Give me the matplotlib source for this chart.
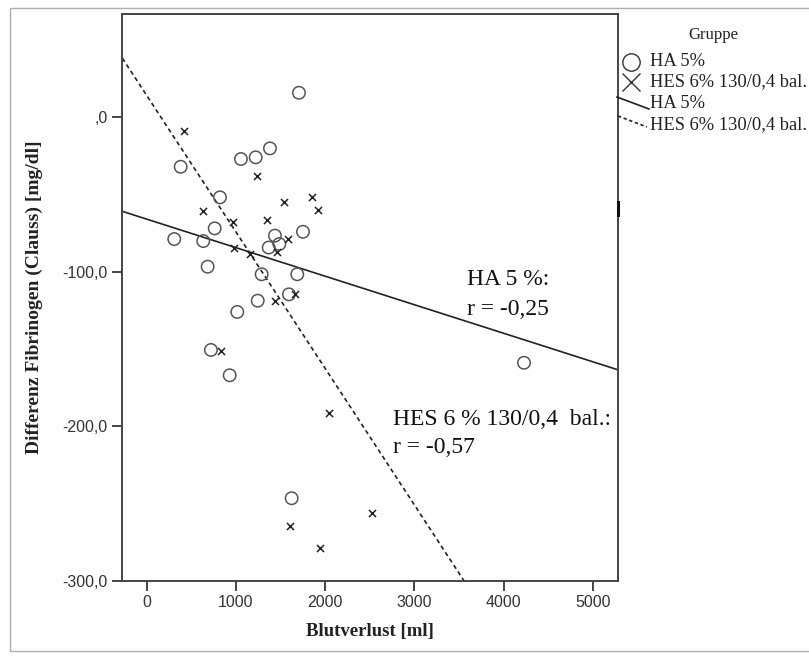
import numpy as np
import matplotlib
matplotlib.use("Agg")
import matplotlib.pyplot as plt
from matplotlib.lines import Line2D
from matplotlib.patches import Rectangle

# ---- data ----
ha_blood = [1706, 1381, 1221, 1056, 381, 821, 762, 309, 634, 1751, 1437, 1486,
            1367, 683, 1288, 1687, 1594, 1244, 1015, 720, 930, 1624, 4227]
ha_fib = [15.9, -20.1, -25.9, -27.0, -32.0, -51.8, -71.9, -78.8, -80.1, -74.1, -76.6, -82.0,
          -84.3, -96.7, -101.6, -101.6, -114.6, -118.7, -126.0, -150.6, -167.0, -246.6, -158.9]
hes_blood = [421, 1232, 1542, 1852, 1919, 634, 1344, 963, 1586, 981, 1157, 1456,
             1437, 1661, 832, 2042, 1605, 1942, 2527]
hes_fib = [-8.9, -37.8, -54.8, -51.8, -59.8, -60.7, -66.7, -68.0, -78.6, -84.8, -88.7, -87.0,
           -118.7, -114.6, -151.3, -191.6, -264.6, -278.6, -256.0]

ha_fit = (-65.9, -0.01848)     # intercept, slope
hes_fit = (14.2, -0.0884)

x_ticks = [0, 1000, 2000, 3000, 4000, 5000]
x_ticklabels = ["0", "1000", "2000", "3000", "4000", "5000"]
y_ticks = [0, -100, -200, -300]
y_ticklabels = [",0", "-100,0", "-200,0", "-300,0"]

group_labels = ["HA 5%", "HES 6% 130/0,4 bal."]
annot_ha = ["HA 5 %:", "r = -0,25"]
annot_hes = ["HES 6 % 130/0,4  bal.:", "r = -0,57"]

SERIF = "Liberation Serif"
SANS = "Liberation Sans"
W, H = 809, 657

fig = plt.figure(figsize=(W / 100, H / 100), dpi=100)
fig.patch.set_facecolor("white")


def fx(x):
    return x / W


def fy(y):
    return 1 - y / H


ax = fig.add_axes([fx(122.3), fy(580.7), (618 - 122.3) / W, (580.7 - 14) / H])
ax.set_xlim(-273, 5280)
ax.set_ylim(-300, 66.9)

spine_col = "#444444"
for s in ax.spines.values():
    s.set_color(spine_col)
    s.set_linewidth(1.4)

ax.scatter(ha_blood, ha_fib, s=80, facecolors="none", edgecolors="#555555",
           linewidths=1.1, zorder=3)
ax.scatter(hes_blood, hes_fib, s=26, marker="x", color="#222222",
           linewidths=1.1, zorder=3)

xs = np.array(ax.get_xlim())
ax.plot(xs, ha_fit[0] + ha_fit[1] * xs, color="#222222", lw=1.2, zorder=2)
ax.plot(xs, hes_fit[0] + hes_fit[1] * xs, color="#222222", lw=1.2,
        linestyle=(0, (2.6, 2.0)), zorder=2)
ax.set_xlim(-273, 5280)
ax.set_ylim(-300, 66.9)

ax.set_xticks(x_ticks)
ax.set_xticklabels(x_ticklabels)
ax.set_yticks(y_ticks)
ax.set_yticklabels(y_ticklabels)
ax.tick_params(axis="both", direction="out", length=7.5, width=1.4, color=spine_col,
               labelsize=11.5, labelcolor="#333333", pad=3)
for lab in ax.get_xticklabels() + ax.get_yticklabels():
    lab.set_fontfamily(SANS)

ax.set_xlabel("Blutverlust [ml]", fontfamily=SERIF, fontweight="bold",
              fontsize=13.5, color="#222222", labelpad=9)
ax.set_ylabel("Differenz Fibrinogen (Clauss) [mg/dl]", fontfamily=SERIF,
              fontweight="bold", fontsize=14, color="#222222", labelpad=14)

# annotations
ax.text(3588, -108.6, annot_ha[0], fontfamily=SERIF, fontsize=17, va="baseline", color="#111111")
ax.text(3588, -128.0, annot_ha[1], fontfamily=SERIF, fontsize=17, va="baseline", color="#111111")
ax.text(2759, -199.1, annot_hes[0], fontfamily=SERIF, fontsize=17, va="baseline", color="#111111")
ax.text(2759, -217.3, annot_hes[1], fontfamily=SERIF, fontsize=17, va="baseline", color="#111111")

# outer frame
fig.patches.append(Rectangle((fx(10), fy(651)), (830 - 10) / W, (651 - 8) / H,
                             transform=fig.transFigure, fill=False,
                             edgecolor="#b0b0b0", lw=1.0))
# small mark on right spine
fig.lines.append(Line2D([fx(618), fx(618)], [fy(202), fy(215)],
                        transform=fig.transFigure, color="#111111", lw=2.2))

# legend (drawn manually)
fig.text(fx(713), fy(35), "Gruppe", fontfamily=SERIF, fontsize=12, ha="center", va="center",
         color="#222222")
fig.lines.append(Line2D([fx(631)], [fy(62)], transform=fig.transFigure, marker="o",
                        markersize=12.5, markerfacecolor="none", markeredgecolor="#333333",
                        markeredgewidth=1.0, linestyle="none"))
fig.lines.append(Line2D([fx(631)], [fy(82)], transform=fig.transFigure, marker="x",
                        markersize=12.5, color="#333333", markeredgewidth=1.0, linestyle="none"))
fig.lines.append(Line2D([fx(617), fx(649)], [fy(97), fy(109)], transform=fig.transFigure,
                        color="#222222", lw=1.2))
fig.lines.append(Line2D([fx(618), fx(647)], [fy(116), fy(127)], transform=fig.transFigure,
                        color="#222222", lw=1.2, linestyle=(0, (2.0, 1.6))))
for ytxt, lab in zip([62, 82, 104, 125], group_labels + group_labels):
    fig.text(fx(650), fy(ytxt), lab, fontfamily=SERIF, fontsize=13.3, ha="left",
             va="center", color="#222222")

fig.savefig("out.png", dpi=100)
